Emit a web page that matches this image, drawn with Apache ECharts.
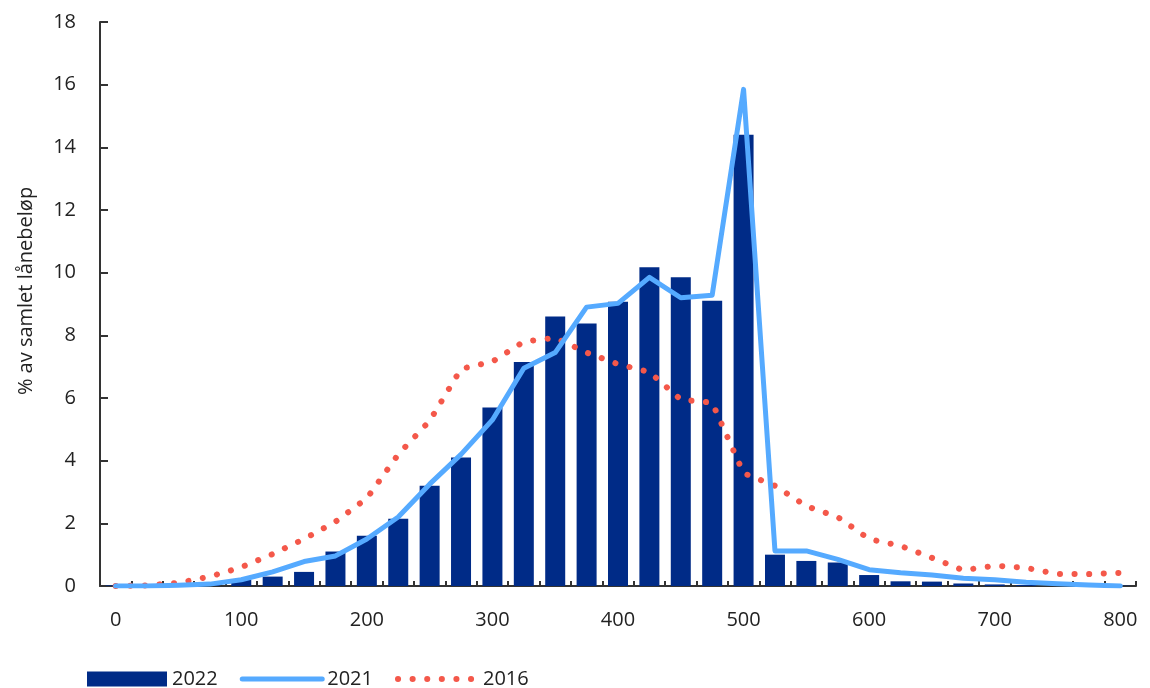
<!DOCTYPE html>
<html>
<head>
<meta charset="utf-8">
<script src="https://cdn.jsdelivr.net/npm/echarts@6/dist/echarts.min.js"></script>
<style>
html,body{margin:0;padding:0;background:#fff;}
#chart{width:1150px;height:688px;}
</style>
</head>
<body>
<div id="chart"></div>
<script>
const categories = ['0','25','50','75','100','125','150','175','200','225','250','275','300','325','350','375','400','425','450','475','500','525','550','575','600','625','650','675','700','725','750','775','800'];
const yTicks = [0, 2, 4, 6, 8, 10, 12, 14, 16, 18];
const s2022 = [0.02,0.02,0.03,0.08,0.2,0.3,0.45,1.1,1.6,2.15,3.2,4.1,5.7,7.15,8.6,8.38,9.07,10.17,9.85,9.1,14.4,1.0,0.8,0.75,0.35,0.15,0.14,0.08,0.05,0.03,0.02,0.01,0.01];
const s2021 = [0,0,0.02,0.06,0.2,0.45,0.78,0.96,1.5,2.2,3.25,4.2,5.3,6.95,7.45,8.9,9.02,9.85,9.2,9.28,15.85,1.12,1.12,0.85,0.52,0.42,0.35,0.25,0.2,0.12,0.07,0.03,0];
const s2016 = [0,0.02,0.1,0.3,0.6,1.02,1.5,2.05,2.8,4.2,5.27,6.93,7.16,7.8,7.92,7.45,7.08,6.83,5.95,5.85,3.6,3.2,2.55,2.2,1.5,1.28,0.9,0.5,0.65,0.58,0.38,0.38,0.42];
const seriesNames = ['2022','2021','2016'];

const chart = echarts.init(document.getElementById('chart'));
const font = '"Open Sans", "Noto Sans", sans-serif';
const dotPattern = [0.1, 14.5];
chart.setOption({
  animation: false,
  backgroundColor: '#ffffff',
  textStyle: {fontFamily: font},
  grid: {left: 100, right: 14, top: 22, bottom: 102, containLabel: false},
  legend: {
    left: 82, top: 664,
    itemWidth: 80, itemHeight: 15, itemGap: 22,
    textStyle: {fontSize: 20, color: '#222', fontFamily: font},
    data: [
      {name: seriesNames[0], icon: 'rect'},
      {name: seriesNames[1], itemStyle: {opacity: 0}, lineStyle: {width: 5, color: '#55AAFF', cap: 'round', opacity: 1}},
      {name: seriesNames[2], itemStyle: {opacity: 0}, lineStyle: {width: 6, color: '#F4584A', type: dotPattern, cap: 'round', opacity: 1}}
    ]
  },
  xAxis: {
    type: 'category',
    data: categories,
    boundaryGap: true,
    axisLine: {show: true, lineStyle: {color: '#333', width: 2}},
    axisTick: {show: true, inside: true, length: 5, interval: 0, lineStyle: {color: '#333', width: 2}},
    axisLabel: {interval: 3, fontSize: 20, color: '#222', margin: 24, fontFamily: font},
    splitLine: {show: false}
  },
  yAxis: {
    type: 'value',
    min: yTicks[0], max: yTicks[yTicks.length - 1], interval: 2,
    name: '% av samlet lånebeløp',
    nameLocation: 'middle',
    nameGap: 64,
    nameTextStyle: {fontSize: 20, color: '#222', fontFamily: font, padding: [0, 0, 0, 26]},
    axisLine: {show: true, lineStyle: {color: '#333', width: 2}},
    axisTick: {show: true, inside: true, length: 8, lineStyle: {color: '#333', width: 2}},
    axisLabel: {fontSize: 20, color: '#222', margin: 24, fontFamily: font},
    splitLine: {show: false}
  },
  series: [
    {
      name: seriesNames[0], type: 'bar', data: s2022,
      barWidth: 20,
      itemStyle: {color: '#002B87'},
      z: 1
    },
    {
      name: seriesNames[1], type: 'line', data: s2021,
      symbol: 'none', smooth: false,
      lineStyle: {color: '#55AAFF', width: 5, cap: 'round', join: 'round'},
      itemStyle: {color: '#55AAFF'},
      z: 3
    },
    {
      name: seriesNames[2], type: 'line', data: s2016,
      symbol: 'none', smooth: false,
      lineStyle: {color: '#F4584A', width: 6, type: dotPattern, cap: 'round'},
      itemStyle: {color: '#F4584A'},
      z: 2
    }
  ]
});
</script>
</body>
</html>
